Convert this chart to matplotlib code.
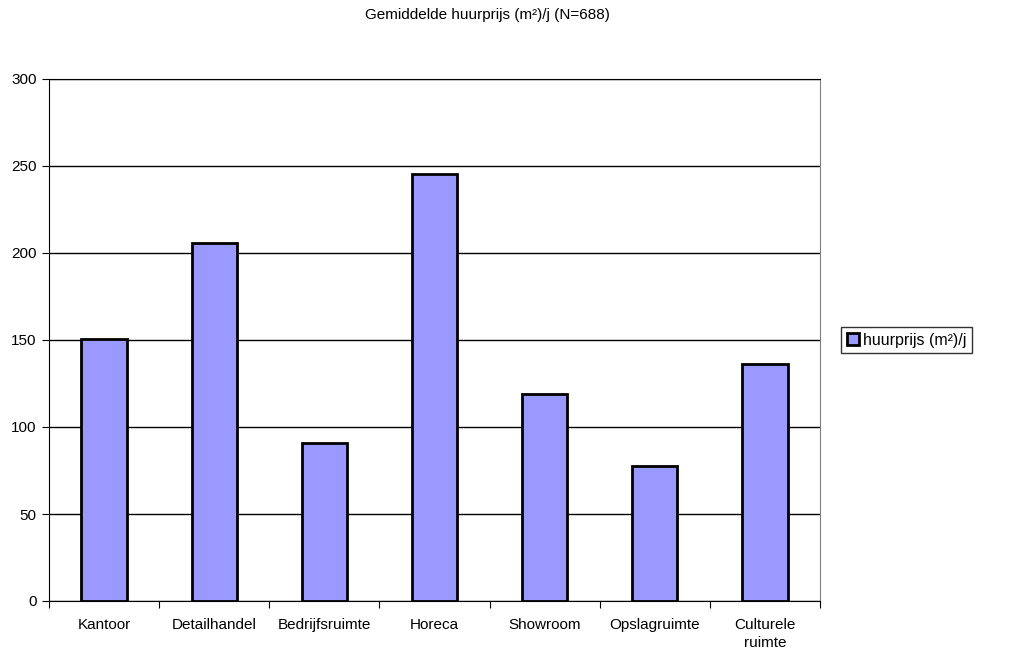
import numpy as np
import matplotlib.pyplot as plt

plt.rcParams['font.family'] = ['Liberation Sans', 'DejaVu Sans']

# Data
categories = ['Kantoor', 'Detailhandel', 'Bedrijfsruimte', 'Horeca',
              'Showroom', 'Opslagruimte', 'Culturele\nruimte']
values = [150.5, 206, 91, 245.5, 119, 77.5, 136]
series_name = 'huurprijs (m²)/j'
title = 'Gemiddelde huurprijs (m²)/j (N=688)'

fig = plt.figure(figsize=(10.29, 6.57), dpi=100)
ax = fig.add_axes([49 / 1029, 1 - 601 / 657, (820 - 49) / 1029, (601 - 79) / 657])

x = np.arange(len(categories))
ax.bar(x, values, width=0.41, color='#9999FF', edgecolor='black', linewidth=2,
       label=series_name, zorder=3)

ax.set_xlim(-0.5, len(categories) - 0.5)
ax.set_ylim(0, 300)
ax.set_yticks(np.arange(0, 301, 50))
ax.yaxis.grid(True, color='black', linewidth=1, zorder=0)
ax.set_axisbelow(True)

# category labels centred, tick marks on boundaries
ax.set_xticks(np.arange(-0.5, len(categories)), minor=False)
ax.set_xticklabels([])
ax.set_xticks(x, minor=True)
ax.set_xticklabels(categories, minor=True, fontsize=11, linespacing=1.35)
ax.tick_params(axis='x', which='minor', length=0, pad=12)
ax.tick_params(axis='x', which='major', length=5, direction='out', color='black')
ax.tick_params(axis='y', length=5, direction='out', labelsize=11, pad=4)

for s in ['left', 'bottom', 'top']:
    ax.spines[s].set_color('black')
ax.spines['right'].set_color('#808080')

fig.text(487 / 1029, 1 - 15 / 657, title, ha='center', va='center', fontsize=11)

leg = ax.legend(loc='center left', bbox_to_anchor=(1.017, 0.5), fontsize=11.5,
                frameon=True, fancybox=False, edgecolor='black',
                handlelength=0.75, handleheight=0.75, handletextpad=0.3,
                borderpad=0.35)
leg.get_frame().set_linewidth(1)

fig.savefig('out.png', dpi=100)
